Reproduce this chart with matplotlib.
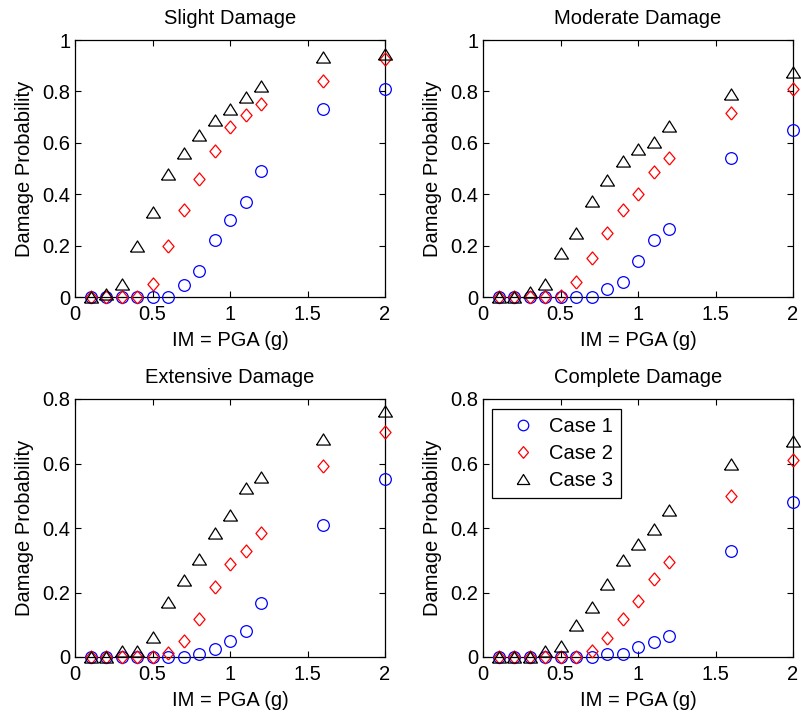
import matplotlib
matplotlib.use('Agg')
import matplotlib.pyplot as plt

plt.rcParams['font.family'] = ['Liberation Sans', 'DejaVu Sans']

pga = [0.1, 0.2, 0.3, 0.4, 0.5, 0.6, 0.7, 0.8, 0.9, 1.0, 1.1, 1.2, 1.6, 2.0]

# Slight damage
slight_c1 = [0, 0, 0, 0, 0, 0, 0.046, 0.10, 0.22, 0.30, 0.37, 0.49, 0.73, 0.81]
slight_c2 = [0, 0, 0, 0, 0.05, 0.20, 0.34, 0.46, 0.57, 0.66, 0.71, 0.75, 0.84, 0.925]
slight_c3 = [0, 0.01, 0.05, 0.20, 0.33, 0.48, 0.56, 0.63, 0.69, 0.73, 0.78, 0.82, 0.935, 0.945]

# Moderate damage
moderate_c1 = [0, 0, 0, 0, 0, 0, 0, 0.03, 0.06, 0.14, 0.22, 0.265, 0.54, 0.65]
moderate_c2 = [0, 0, 0, 0, 0.005, 0.06, 0.15, 0.25, 0.34, 0.40, 0.485, 0.54, 0.715, 0.81]
moderate_c3 = [0, 0, 0.02, 0.05, 0.17, 0.25, 0.375, 0.455, 0.53, 0.575, 0.605, 0.665, 0.79, 0.875]

# Extensive damage
extensive_c1 = [0, 0, 0, 0, 0, 0, 0, 0.01, 0.024, 0.05, 0.08, 0.166, 0.41, 0.553]
extensive_c2 = [0, 0, 0, 0, 0, 0.013, 0.05, 0.117, 0.217, 0.289, 0.328, 0.385, 0.593, 0.697]
extensive_c3 = [0, 0, 0.019, 0.019, 0.063, 0.17, 0.24, 0.305, 0.385, 0.44, 0.525, 0.557, 0.677, 0.762]

# Complete damage
complete_c1 = [0, 0, 0, 0, 0, 0, 0, 0.008, 0.01, 0.031, 0.045, 0.065, 0.328, 0.481]
complete_c2 = [0, 0, 0, 0, 0, 0, 0.02, 0.058, 0.117, 0.173, 0.243, 0.294, 0.50, 0.612]
complete_c3 = [0, 0, 0, 0.02, 0.034, 0.10, 0.155, 0.227, 0.30, 0.351, 0.397, 0.455, 0.599, 0.669]

titles = ['Slight Damage', 'Moderate Damage', 'Extensive Damage', 'Complete Damage']
data = [(slight_c1, slight_c2, slight_c3),
        (moderate_c1, moderate_c2, moderate_c3),
        (extensive_c1, extensive_c2, extensive_c3),
        (complete_c1, complete_c2, complete_c3)]
ylims = [1, 1, 0.8, 0.8]

# MATLAB-like marker shapes
diamond = [(0, -1), (0.85, 0), (0, 1), (-0.85, 0), (0, -1)]
triangle = [(-1, -0.8), (1, -0.8), (0, 0.8), (-1, -0.8)]

W, H = 801, 715
fs = 14.5
fig = plt.figure(figsize=(W / 100, H / 100), dpi=100)

# axes boxes in pixels: left, top, right, bottom
boxes = [(75, 40, 385, 297), (483, 40, 793, 297),
         (75, 399, 385, 657), (483, 399, 793, 657)]

for i, (title, (c1, c2, c3), ymax, (l, t, r, b)) in enumerate(zip(titles, data, ylims, boxes)):
    ax = fig.add_axes([l / W, 1 - b / H, (r - l) / W, (b - t) / H])
    ax.plot(pga, c1, 'o', ls='none', mfc='none', mec='#0000ff', ms=8.4, mew=0.9, clip_on=False, label='Case 1', zorder=3)
    ax.plot(pga, c2, marker=diamond, ls='none', mfc='none', mec='#ff0000', ms=9.4, mew=0.9, clip_on=False, label='Case 2', zorder=3)
    ax.plot(pga, c3, marker=triangle, ls='none', mfc='none', mec='black', ms=10, mew=0.9, clip_on=False, label='Case 3', zorder=3)
    ax.set_xlim(0, 2)
    ax.set_ylim(0, ymax)
    ax.set_xticks([0, 0.5, 1, 1.5, 2])
    ax.set_xticklabels(['0', '0.5', '1', '1.5', '2'])
    if ymax == 1:
        ax.set_yticks([0, 0.2, 0.4, 0.6, 0.8, 1])
        ax.set_yticklabels(['0', '0.2', '0.4', '0.6', '0.8', '1'])
    else:
        ax.set_yticks([0, 0.2, 0.4, 0.6, 0.8])
        ax.set_yticklabels(['0', '0.2', '0.4', '0.6', '0.8'])
    ax.tick_params(direction='in', top=True, right=True, labelsize=fs, length=4, width=0.8)
    ax.tick_params(axis='x', pad=6)
    ax.tick_params(axis='y', pad=3.5)
    for s in ax.spines.values():
        s.set_linewidth(0.9)
    ax.set_title(title, fontsize=fs, pad=11.5)
    ax.set_xlabel('IM = PGA (g)', fontsize=fs, labelpad=4.5)
    ax.set_ylabel('Damage Probability', fontsize=fs, labelpad=6)
    if i == 3:
        leg = ax.legend(loc='upper left', fontsize=fs, fancybox=False, edgecolor='black',
                        framealpha=1, handletextpad=0.15, handlelength=2.3,
                        borderpad=0.4, labelspacing=0.4, markerscale=0.9,
                        borderaxespad=0, bbox_to_anchor=(9 / 310, 1 - 10 / 258))
        leg.get_frame().set_linewidth(0.9)

fig.savefig('out.png', dpi=100)
